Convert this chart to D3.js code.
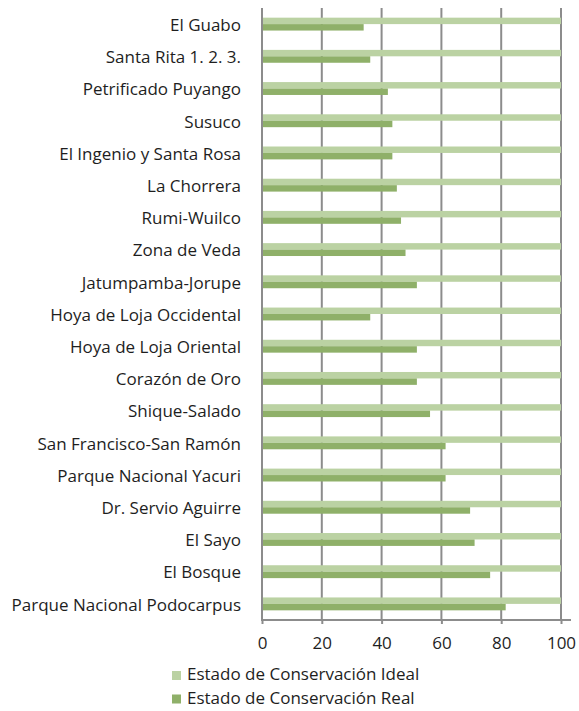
<!DOCTYPE html>
<html><head><meta charset="utf-8">
<script src="https://cdn.jsdelivr.net/npm/d3@7"></script>
<style>body{margin:0;background:#fff}svg{display:block}</style>
</head><body>
<script>
const categories = ["El Guabo","Santa Rita 1. 2. 3.","Petrificado Puyango","Susuco","El Ingenio y Santa Rosa","La Chorrera","Rumi-Wuilco","Zona de Veda","Jatumpamba-Jorupe","Hoya de Loja Occidental","Hoya de Loja Oriental","Corazón de Oro","Shique-Salado","San Francisco-San Ramón","Parque Nacional Yacuri","Dr. Servio Aguirre","El Sayo","El Bosque","Parque Nacional Podocarpus"];
const idealValues = [100,100,100,100,100,100,100,100,100,100,100,100,100,100,100,100,100,100,100];
const realValues = [34,36.2,42.1,43.6,43.6,45.1,46.5,48,51.8,36.2,51.8,51.8,56.2,61.4,61.4,69.6,71.1,76.3,81.5];
const xTicks = [0,20,40,60,80,100];
const seriesNames = ["Estado de Conservación Ideal","Estado de Conservación Real"];
const colors = ["#bbd2a3","#8fb069"];

const W=579,H=711;
const svg=d3.select("body").append("svg").attr("width",W).attr("height",H);
const font="'Open Sans', Lato, sans-serif";
const fs=17;
const x=d3.scaleLinear().domain([0,100]).range([262,561]);
const y=d3.scaleBand().domain(categories).range([8,620]).paddingInner(0.6).paddingOuter(0.3);
const sub=d3.scaleBand().domain([0,1]).range([0,y.bandwidth()]);

// gridlines
svg.append("g").selectAll("line").data(xTicks.slice(1)).join("line")
 .attr("x1",d=>x(d)).attr("x2",d=>x(d)).attr("y1",8).attr("y2",620)
 .attr("stroke","#8c8c8c").attr("stroke-width",2);

const data=[idealValues,realValues];
data.forEach((vals,si)=>{
  svg.append("g").selectAll("rect").data(vals).join("rect")
   .attr("x",x(0)).attr("y",(d,i)=>y(categories[i])+sub(si))
   .attr("width",d=>x(d)-x(0)).attr("height",sub.bandwidth())
   .attr("fill",colors[si]);
});

// axes lines
svg.append("line").attr("x1",x(0)).attr("x2",x(0)).attr("y1",8).attr("y2",621).attr("stroke","#8c8c8c").attr("stroke-width",2);
const xa=svg.append("g").attr("transform","translate(0,620)")
 .call(d3.axisBottom(x).tickValues(xTicks).tickSize(4).tickSizeOuter(0));
xa.select(".domain").remove();
xa.append("line").attr("x1",x(0)-1).attr("x2",571).attr("y1",0).attr("y2",0).attr("stroke","#8c8c8c").attr("stroke-width",2);
xa.selectAll(".tick line").attr("stroke","#8c8c8c").attr("stroke-width",2);
xa.selectAll(".tick text").attr("font-family",font).attr("font-size",fs).attr("fill","#1e1e1e").attr("y",12).attr("dy","1em");

// category labels
svg.append("g").selectAll("text").data(categories).join("text")
 .attr("x",241).attr("y",d=>y(d)+y.bandwidth()/2).attr("dy","0.4em")
 .attr("text-anchor","end").attr("font-family",font).attr("font-size",fs).attr("fill","#1e1e1e")
 .text(d=>d);

// legend
const lg=svg.append("g");
seriesNames.forEach((n,i)=>{
  const yy=680+i*23.5;
  lg.append("rect").attr("x",172).attr("y",yy-9).attr("width",9).attr("height",9).attr("fill",colors[i]);
  lg.append("text").attr("x",187).attr("y",yy).attr("font-family",font).attr("font-size",fs).attr("fill","#1e1e1e").text(n);
});
</script>
</body></html>
